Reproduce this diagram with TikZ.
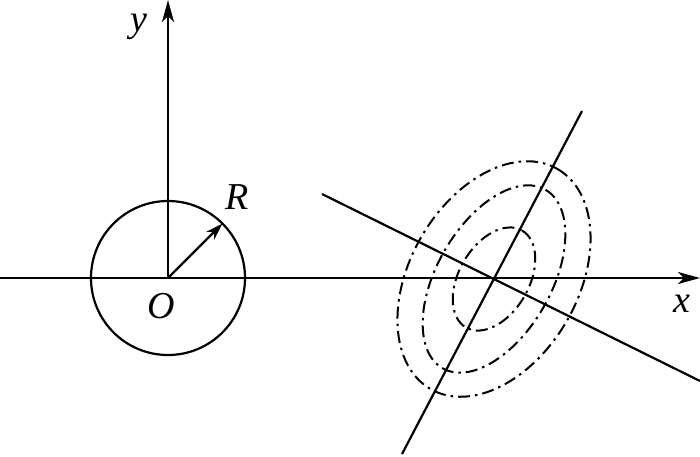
\documentclass[tikz,border=0pt]{standalone}
\usepackage{fontspec}
\setmainfont{Liberation Serif}
\newfontfamily\lblfont{Liberation Serif Italic}
\usetikzlibrary{arrows.meta}
\begin{document}
\begin{tikzpicture}[x=1pt,y=-1pt, line width=2.2pt,
  axis/.style={-{Stealth[length=22pt,width=12pt,inset=6pt]}},
  radarrow/.style={-{Stealth[length=17pt,width=11pt,inset=5pt]}},
  lbl/.style={font=\fontsize{38}{44}\selectfont\lblfont, inner sep=0pt},
  contour/.style={line width=2pt, dash pattern=on 12pt off 5pt on 2.5pt off 5pt}]
\useasboundingbox (0,0) rectangle (700,456);
\coordinate (O) at (168,278);
\coordinate (xs) at (0,278);
\coordinate (xe) at (700,278);
\coordinate (ye) at (168,0);
\coordinate (Rp) at (222.4,223.6);
\coordinate (C) at (494,279);
\coordinate (a1) at (322,194);
\coordinate (a2) at (700,381);
\coordinate (b1) at (402,454);
\coordinate (b2) at (582,111);
\draw[axis] (xs) -- (xe);
\draw[axis] (O) -- (ye);
\draw (O) circle (77);
\draw[radarrow] (O) -- (Rp);
\draw (a1) -- (a2);
\draw (b1) -- (b2);
\draw[contour, rotate around={60:(C)}] (C) ellipse [x radius=127, y radius=84];
\draw[contour, rotate around={60:(C)}] (C) ellipse [x radius=103, y radius=57];
\draw[contour, rotate around={60:(C)}] (C) ellipse [x radius=56, y radius=35];
\node[lbl] (ylab) at (139,27) {y};
\node[lbl] (xlab) at (682,304) {x};
\node[lbl] (Rlab) at (237,197) {R};
\node[lbl] (Olab) at (161,306) {O};
\end{tikzpicture}
\end{document}
